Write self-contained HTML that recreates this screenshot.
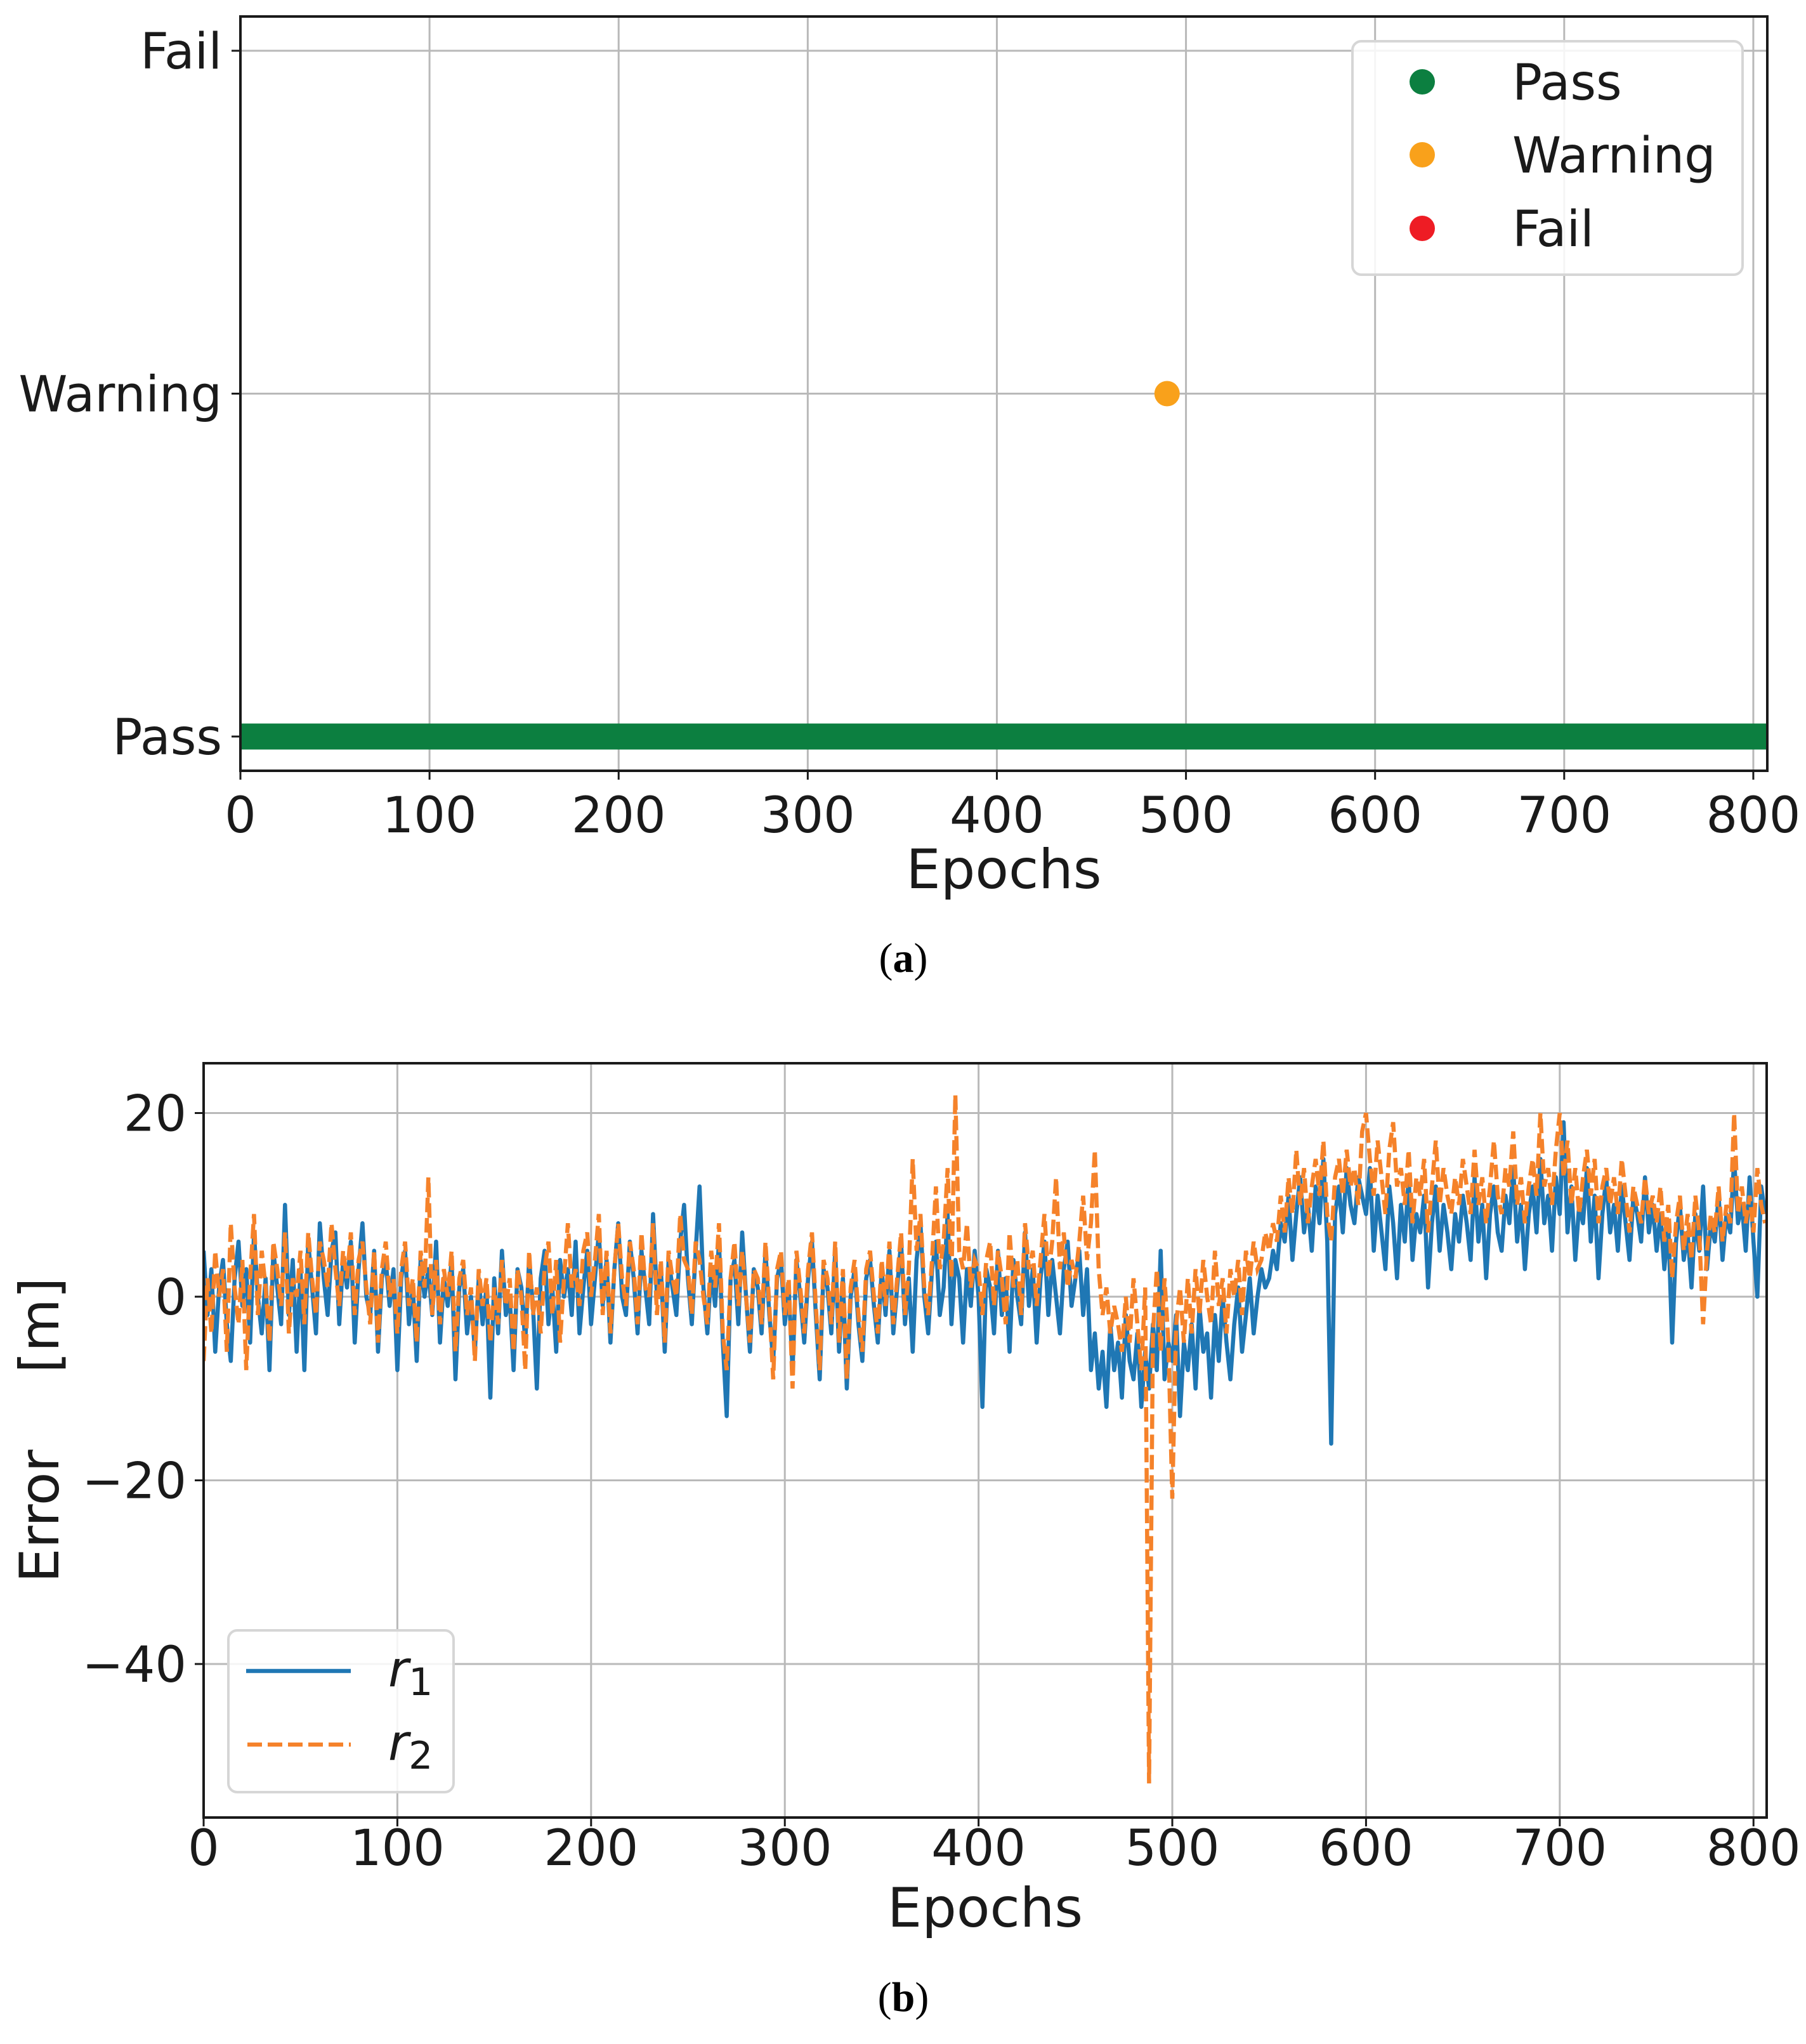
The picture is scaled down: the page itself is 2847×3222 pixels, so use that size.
<!DOCTYPE html>
<html><head><meta charset="utf-8">
<style>
html,body{margin:0;padding:0;background:#fff;}
svg{display:block;font-family:"DejaVu Sans","Liberation Sans",sans-serif;}
</style></head>
<body>
<svg id="fig" width="2847" height="3222" viewBox="0 0 2847 3222" xmlns="http://www.w3.org/2000/svg">
<g id="chartA"></g>
<text x="1424" y="1532" font-family="Liberation Serif,serif" font-size="66" text-anchor="middle">(<tspan font-weight="bold">a</tspan>)</text>
<g id="chartB"></g>
<text x="1424" y="3170" font-family="Liberation Serif,serif" font-size="66" text-anchor="middle">(<tspan font-weight="bold">b</tspan>)</text>
</svg>
<script>
const NS="http://www.w3.org/2000/svg";
// ---- data chart A ----
const statusLevels=["Pass","Warning","Fail"];
const passEpochs=[0,807];
const warningEpochs=[490];
const xTicksA=[0,100,200,300,400,500,600,700,800];
// ---- data chart B ----
const epochStep=2;
const r1=[5,-2,3,-6,1,4,-3,-7,2,6,-1,3,-5,7,0,-4,2,-8,5,1,-3,10,-2,4,-6,
3,-8,6,1,-4,8,2,-2,5,7,-3,4,1,6,-5,3,8,0,-2,5,-6,2,4,-1,3,
-8,2,5,-3,1,-7,4,0,3,-2,6,-5,2,-1,4,-9,1,3,-4,0,-6,2,-3,1,-11,
2,-4,5,-2,0,-8,3,1,-5,4,-1,-10,2,5,-3,1,-6,4,0,3,-2,6,-4,1,5,
-3,2,7,-1,4,-5,3,8,0,-2,6,2,-4,5,1,-3,9,0,3,-6,4,1,-2,6,10,
2,-3,5,12,1,-4,3,-1,6,-5,-13,2,4,-3,7,0,-6,3,1,-4,5,-2,-7,2,4,
-3,1,-8,4,0,-5,2,6,-2,-9,3,1,-4,5,-6,2,-10,0,3,-3,-7,2,4,-1,-5,
3,-2,5,-4,1,6,-3,2,-6,4,8,0,-4,3,6,-2,1,9,-3,4,2,-5,3,-1,5,
0,-12,3,1,-4,5,-2,2,-6,4,0,-3,7,-1,3,-5,2,6,-2,4,0,-4,3,6,-1,
2,5,-2,3,-8,-4,-10,-6,-12,-3,-8,-5,-11,-2,-7,-9,-4,-12,-6,-10,-3,-8,5,-9,-5,
-7,-2,-13,-5,-8,-3,-10,-1,-6,-4,-11,-2,-7,0,-5,-9,-3,1,-6,-2,2,-4,0,3,1,
2,5,3,8,6,11,4,9,13,7,10,5,12,8,15,6,-16,9,12,7,14,10,8,13,11,
9,14,5,11,7,3,12,8,2,10,6,13,4,9,7,11,1,8,12,5,10,7,3,9,6,
11,8,4,13,6,10,2,9,12,7,5,11,8,14,6,10,3,9,12,7,15,8,11,5,13,
9,19,7,12,4,10,8,14,6,11,2,9,13,7,10,5,12,8,4,11,9,6,13,7,10,
5,9,3,8,-5,6,10,4,7,1,9,5,12,3,8,6,11,4,9,7,15,8,10,5,13,
6,0,12,9];
const r2=[-7,2,-4,5,0,3,-6,8,1,-3,4,-8,2,9,-2,5,1,-5,6,3,-1,7,-4,2,0,
5,-3,7,2,-2,6,4,1,8,3,-1,5,2,7,-2,4,6,1,-3,5,-5,3,6,0,2,
-4,3,6,-1,2,-5,5,1,13,-2,4,-3,3,0,5,-6,2,4,-2,1,-7,3,-1,2,-5,
1,-3,4,-1,2,-6,3,0,-8,5,-2,1,-4,3,6,-2,4,-5,2,8,1,3,-1,5,7,
0,4,9,-2,5,-4,3,8,2,-1,6,3,-3,7,1,0,8,-2,4,-5,5,2,0,9,4,
3,-2,6,4,0,-3,5,1,8,-4,-8,2,6,-1,5,0,-5,3,2,-3,6,-1,-9,3,5,
-2,2,-10,5,1,-4,3,7,-1,-8,4,2,-3,6,-5,3,-9,1,4,-2,-6,3,5,0,-4,
4,-1,6,-3,2,7,-2,3,15,5,9,1,-2,4,12,3,6,14,2,22,5,3,8,1,4,
3,-2,4,6,-1,5,2,-3,7,1,4,-2,8,3,5,-1,4,9,2,6,13,3,7,1,4,
2,6,11,4,8,16,3,-2,1,-4,-1,-3,-6,0,-5,2,-3,-8,1,-53,-4,3,-6,2,-5,
-22,-3,1,-5,2,-4,3,-2,4,0,-3,5,-1,2,-4,3,0,4,-2,5,2,6,3,4,7,
5,8,6,11,7,13,9,16,10,14,8,12,15,11,17,9,6,13,15,11,16,12,14,10,18,
20,15,11,17,13,9,16,19,12,14,10,16,8,13,11,15,7,12,17,10,14,11,9,13,10,
15,12,9,16,10,13,8,12,17,11,9,14,12,18,10,13,8,12,15,11,20,12,14,10,16,
20,13,17,10,14,9,13,16,11,15,8,12,14,10,13,9,15,11,7,12,10,8,13,9,11,
8,12,6,10,2,8,11,5,9,4,11,7,-3,5,9,7,12,6,10,8,20,9,12,8,11,
7,14,10,8];
const xTicksB=[0,100,200,300,400,500,600,700,800];
const yTicksB=[20,0,-20,-40];
const yTickLabelsB=["20","0","\u221220","\u221240"];

function mk(parent,tag,attrs,text){const e=document.createElementNS(NS,tag);for(const k in attrs)e.setAttribute(k,attrs[k]);if(text!==undefined)e.textContent=text;parent.appendChild(e);return e;}

// ---- Chart A ----
(function(){
 const g=document.getElementById('chartA');
 const L=379,R=2786,T=26,B=1215;
 const x=v=>L+(v-0)/(807.4)*(R-L);
 const y=i=>1161-(i)*(1161-80)/2;
 xTicksA.forEach(t=>{const l=mk(g,'line',{x1:x(t),x2:x(t),y1:T,y2:B,stroke:'#b9b9b9','stroke-width':3});
  });
 statusLevels.forEach((s,i)=>{const l=mk(g,'line',{x1:L,x2:R,y1:y(i),y2:y(i),stroke:'#b9b9b9','stroke-width':3});
  });
 const band=mk(g,'line',{x1:x(passEpochs[0]),x2:x(passEpochs[1]),y1:y(0),y2:y(0),stroke:'#0c7f40','stroke-width':41});
 
 warningEpochs.forEach(e=>{const c=mk(g,'circle',{cx:x(e),cy:y(1),r:20,fill:'#f9a11b'});
  });
 const sp=mk(g,'rect',{x:L,y:T,width:R-L,height:B-T,fill:'none',stroke:'#1a1a1a','stroke-width':4});
 
 xTicksA.forEach(t=>{mk(g,'line',{x1:x(t),x2:x(t),y1:B,y2:B+14,stroke:'#1a1a1a','stroke-width':3});
  const tx=mk(g,'text',{x:x(t),y:1312,'font-size':78,'text-anchor':'middle',fill:'#1a1a1a'},String(t));
  });
 statusLevels.forEach((s,i)=>{mk(g,'line',{x1:L-14,x2:L,y1:y(i),y2:y(i),stroke:'#1a1a1a','stroke-width':3});
  const tx=mk(g,'text',{x:350,y:y(i)+28,'font-size':78,'text-anchor':'end',fill:'#1a1a1a'},s);
  });
 const xl=mk(g,'text',{x:(L+R)/2,y:1400,'font-size':86,'text-anchor':'middle',fill:'#1a1a1a'},'Epochs');
 
 const lg=mk(g,'g',{});
 mk(lg,'rect',{x:2132,y:65,width:2747-2132,height:433-65,rx:14,fill:'#fff','fill-opacity':0.85,stroke:'#d6d6d6','stroke-width':4});
 const items=[["Pass","#0c7f40",129],["Warning","#f9a11b",244],["Fail","#ee1c24",360]];
 items.forEach(it=>{const e=mk(lg,'g',{});
  mk(e,'circle',{cx:2242,cy:it[2],r:20,fill:it[1]});
  mk(e,'text',{x:2384,y:it[2]+28,'font-size':78,fill:'#1a1a1a'},it[0]);});
})();

// ---- Chart B ----
(function(){
 const g=document.getElementById('chartB');
 const L=321,R=2785,T=1676,B=2865;
 const x=v=>L+v/806.8*(R-L);
 const y=v=>2044-v*(2044-1754.5)/20;
 const defs=mk(g,'clipPath',{id:'clipB'});mk(defs,'rect',{x:L,y:T,width:R-L,height:B-T});
 xTicksB.forEach(t=>{const l=mk(g,'line',{x1:x(t),x2:x(t),y1:T,y2:B,stroke:'#b9b9b9','stroke-width':3});
  });
 yTicksB.forEach(t=>{const l=mk(g,'line',{x1:L,x2:R,y1:y(t),y2:y(t),stroke:'#b9b9b9','stroke-width':3});
  });
 const pts=a=>a.map((v,i)=>x(i*epochStep).toFixed(1)+','+y(v).toFixed(1)).join(' ');
 const p1=mk(g,'polyline',{points:pts(r1),fill:'none',stroke:'#1f77b4','stroke-width':6.5,'stroke-linejoin':'round','clip-path':'url(#clipB)'});
 
 const p2=mk(g,'polyline',{points:pts(r2),fill:'none',stroke:'#f5822a','stroke-width':6.5,'stroke-dasharray':'23,9','clip-path':'url(#clipB)'});
 
 const sp=mk(g,'rect',{x:L,y:T,width:R-L,height:B-T,fill:'none',stroke:'#1a1a1a','stroke-width':4});
 
 xTicksB.forEach(t=>{mk(g,'line',{x1:x(t),x2:x(t),y1:B,y2:B+14,stroke:'#1a1a1a','stroke-width':3});
  const tx=mk(g,'text',{x:x(t),y:2940,'font-size':78,'text-anchor':'middle',fill:'#1a1a1a'},String(t));
  });
 yTicksB.forEach((t,i)=>{mk(g,'line',{x1:L-14,x2:L,y1:y(t),y2:y(t),stroke:'#1a1a1a','stroke-width':3});
  const tx=mk(g,'text',{x:294,y:y(t)+28,'font-size':78,'text-anchor':'end',fill:'#1a1a1a'},yTickLabelsB[i]);
  });
 const xl=mk(g,'text',{x:(L+R)/2,y:3037,'font-size':86,'text-anchor':'middle',fill:'#1a1a1a'},'Epochs');
 
 const yl=mk(g,'text',{x:0,y:0,'font-size':86,'text-anchor':'middle',fill:'#1a1a1a',transform:'translate(92,2390) rotate(-90)'},'Error');
 
 const yu=mk(g,'text',{x:0,y:0,'font-size':86,'text-anchor':'middle',fill:'#1a1a1a',transform:'translate(92,2089) rotate(-90)'},'[m]');
 
 const lg=mk(g,'g',{});
 mk(lg,'rect',{x:360,y:2570,width:355,height:255,rx:14,fill:'#fff','fill-opacity':0.85,stroke:'#d6d6d6','stroke-width':4});
 const e1=mk(lg,'g',{});
 mk(e1,'line',{x1:388,x2:553,y1:2634,y2:2634,stroke:'#1f77b4','stroke-width':6.5});
 const t1=mk(e1,'text',{x:612,y:2658,'font-size':78,fill:'#1a1a1a','font-style':'italic'},'r');
 mk(t1,'tspan',{dy:14,'font-size':60,'font-style':'normal'},'1');
 const e2=mk(lg,'g',{});
 mk(e2,'line',{x1:390,x2:553,y1:2750,y2:2750,stroke:'#f5822a','stroke-width':6.5,'stroke-dasharray':'23,9'});
 const t2=mk(e2,'text',{x:612,y:2774,'font-size':78,fill:'#1a1a1a','font-style':'italic'},'r');
 mk(t2,'tspan',{dy:14,'font-size':60,'font-style':'normal'},'2');
})();
</script>
</body></html>
